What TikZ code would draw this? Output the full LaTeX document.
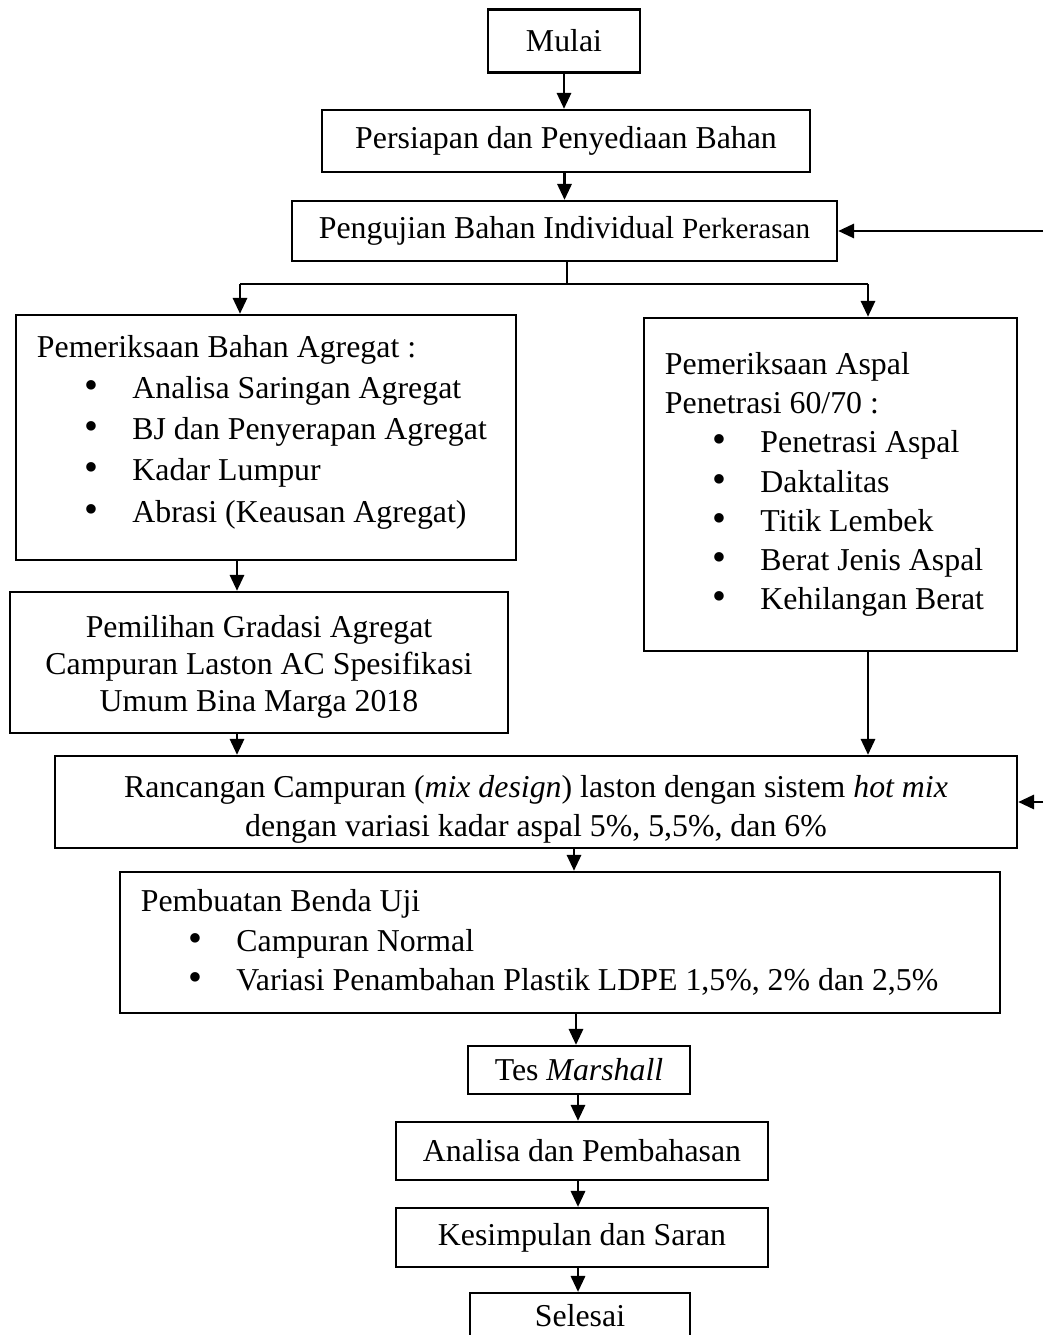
\documentclass[tikz,border=0pt]{standalone}
\usepackage{fontspec}
\setmainfont{Liberation Serif}
\usetikzlibrary{positioning,calc,arrows.meta}

\newcommand{\butir}[1]{\hspace*{18pt}\makebox[18pt][l]{{\fontsize{15pt}{0pt}\selectfont\textbullet}}#1}
\newcommand{\isian}[2]{\parbox{#1}{\raggedright #2}}

\tikzset{
    kotak/.style={draw, line width=0.9pt, inner sep=0pt, align=center, font=\fontsize{12pt}{14.8pt}\selectfont},
    panah/.style={line width=0.85pt, -{Triangle[width=5.4pt,length=6pt]}},
    cabang/.style={line width=0.45pt}
}

\begin{document}
\begin{tikzpicture}[x=0.377pt, y=-0.377pt]
    \useasboundingbox (0,0) rectangle (1043,1335);

    % Main boxes
    \node [kotak, minimum width=57.3pt, minimum height=23.8pt] (mulai) at (564,41) {Mulai};
    \node [kotak, minimum width=184pt, minimum height=23.4pt] (persiapan) at (566,141) {Persiapan dan Penyediaan Bahan};
    \node [kotak, minimum width=205.5pt, minimum height=22.6pt] (pengujian) at (564.5,231) {Pengujian Bahan Individual {\fontsize{11pt}{13pt}\selectfont Perkerasan}};

    % Left branch
    \node [kotak, minimum width=188.5pt, minimum height=92.4pt, font=\fontsize{12pt}{15.5pt}\selectfont] (agregat) at (266,437.5) {\isian{172.7pt}{Pemeriksaan Bahan Agregat :\\
        \butir{Analisa Saringan Agregat}\\
        \butir{BJ dan Penyerapan Agregat}\\
        \butir{Kadar Lumpur}\\
        \butir{Abrasi (Keausan Agregat)}\par\vspace{4pt}}};
    \node [kotak, minimum width=187.7pt, minimum height=53.2pt, font=\fontsize{12pt}{14pt}\selectfont] (gradasi) at (259,662.5) {\rule{0pt}{11.5pt}Pemilihan Gradasi Agregat\\ Campuran Laston AC Spesifikasi\\ Umum Bina Marga 2018};

    % Right branch
    \node [kotak, minimum width=140.6pt, minimum height=125.6pt] (aspal) at (830.5,484.5) {\isian{124.8pt}{\vspace*{0pt}Pemeriksaan Aspal\\ Penetrasi 60/70 :\\
        \butir{Penetrasi Aspal}\\
        \butir{Daktalitas}\\
        \butir{Titik Lembek}\\
        \butir{Berat Jenis Aspal}\\
        \butir{Kehilangan Berat}}};

    % Lower boxes
    \node [kotak, minimum width=362.7pt, minimum height=34.7pt] (rancangan) at (536,802) {\rule{0pt}{14pt}Rancangan Campuran (\textit{mix design}) laston dengan sistem \textit{hot mix}\\ dengan variasi kadar aspal 5\%, 5,5\%, dan 6\%};
    \node [kotak, minimum width=331.8pt, minimum height=53.2pt] (benda) at (560,942.5) {\isian{316pt}{Pembuatan Benda Uji\\
        \butir{Campuran Normal}\\
        \butir{Variasi Penambahan Plastik LDPE 1,5\%, 2\% dan 2,5\%}}};
    \node [kotak, minimum width=83.7pt, minimum height=18.1pt] (marshall) at (579,1070) {Tes \textit{Marshall}};
    \node [kotak, minimum width=140.2pt, minimum height=21.9pt] (analisa) at (582,1151) {Analisa dan Pembahasan};
    \node [kotak, minimum width=140.2pt, minimum height=22.2pt] (simpulan) at (582,1237.5) {Kesimpulan dan Saran};
    \node [kotak, minimum width=82.9pt, minimum height=17.3pt] (selesai) at (580,1316) {Selesai};

    % Free ends and split point
    \coordinate (balik1) at (1043,231);
    \coordinate (balik2) at (1043,802);
    \coordinate (pisah) at (567,284);
    \coordinate (kiri) at (240,284);
    \coordinate (kanan) at (868,284);

    % Connectors
    \draw [panah] (mulai.south) -- (mulai.south |- persiapan.north);
    \draw [panah] (persiapan.south -| pengujian.north) -- (pengujian.north);
    \draw [panah] (balik1) -- (pengujian.east);
    \draw [cabang] (pisah |- pengujian.south) -- (pisah);
    \draw [cabang] (kiri) -- (kanan);
    \draw [panah] (kiri) -- (kiri |- agregat.north);
    \draw [panah] (kanan) -- (kanan |- aspal.north);
    \draw [panah] (237,0 |- agregat.south) -- (237,0 |- gradasi.north);
    \draw [panah] (237,0 |- gradasi.south) -- (237,0 |- rancangan.north);
    \draw [panah] (kanan |- aspal.south) -- (kanan |- rancangan.north);
    \draw [panah] (balik2) -- (rancangan.east);
    \draw [panah] (574,0 |- rancangan.south) -- (574,0 |- benda.north);
    \draw [panah] (576,0 |- benda.south) -- (576,0 |- marshall.north);
    \draw [panah] (578,0 |- marshall.south) -- (578,0 |- analisa.north);
    \draw [panah] (578,0 |- analisa.south) -- (578,0 |- simpulan.north);
    \draw [panah] (578,0 |- simpulan.south) -- (578,0 |- selesai.north);
\end{tikzpicture}
\end{document}
